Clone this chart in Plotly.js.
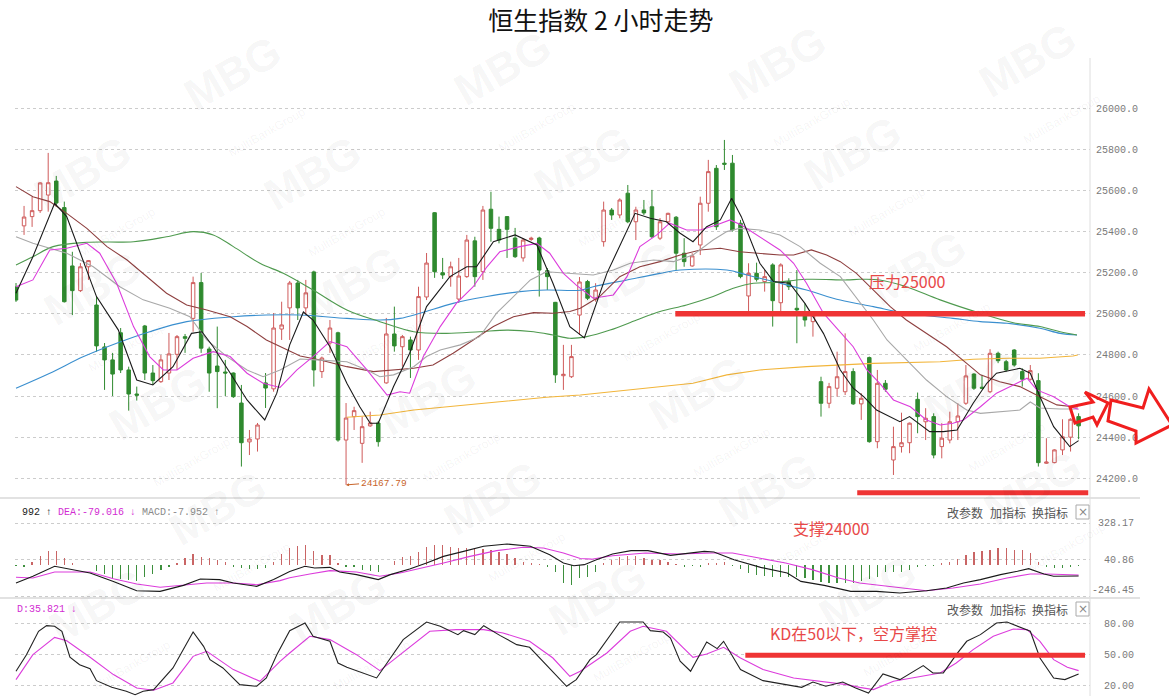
<!DOCTYPE html>
<html><head><meta charset="utf-8">
<script src="https://cdn.plot.ly/plotly-3.0.1.min.js"></script>
<style>html,body{margin:0;padding:0;background:#fff}#chart{width:1169px;height:696px}</style>
</head><body><div id="chart"></div>
<script>
// ---------- DATA ----------
const openP = [25131,25428,25473,25502,25578,25646,25517,25233,25113,25229,
25043,24839,24776,24908,24727,24610,24941,24712,24670,24712,
24803,24889,24978,25152,24829,24746,24717,24712,24566,24377,
24391,24664,24635,24926,25029,25150,25029,25204,24719,24858,
24908,24386,24500,24370,24455,24469,24664,24902,24840,24873,
24824,25082,25492,25200,25181,25072,25181,25355,25205,25509,
25411,25473,25369,25272,25362,25369,25210,25056,24699,24694,
24994,25157,25071,25351,25505,25481,25587,25448,25505,25521,
25368,25448,25470,25295,25233,25335,25538,25708,25733,25733,
25441,25087,25197,25157,25238,25054,25157,25027,25011,24962,
24670,24565,24638,24621,24719,24562,24787,24378,24662,24289,
24354,24373,24584,24475,24500,24354,24386,24475,24565,24707,
24643,24621,24808,24767,24824,24719,24682,24675,24273,24276,
24338,24400,24500];
const highP = [25150,25525,25570,25640,25783,25671,25546,25302,25247,25262,
25084,24858,24810,24931,24743,24646,24946,24751,24800,24907,
24897,24902,25181,25199,24840,24938,24776,24715,24654,24435,
24469,24712,25004,25059,25160,25165,25165,25210,24792,24970,
24913,24566,24548,24500,24524,24479,24980,25035,24897,24889,
25132,25296,25495,25272,25254,25272,25384,25375,25525,25594,
25473,25475,25418,25369,25375,25375,25223,25058,24849,24849,
25179,25165,25149,25546,25515,25562,25627,25521,25554,25603,
25466,25492,25476,25368,25295,25570,25749,25724,25846,25773,
25457,25246,25249,25213,25246,25246,25173,25213,25051,25011,
24694,24664,24816,24905,24735,24614,24792,24727,24678,24451,
24519,24471,24617,24541,24516,24468,24524,24565,24751,24711,
24703,24828,24816,24776,24828,24735,24751,24711,24395,24341,
24487,24492,24516];
const lowP = [25058,25384,25423,25491,25497,25521,25055,24994,25106,25165,
24816,24630,24600,24712,24529,24578,24678,24654,24664,24678,
24727,24810,24913,24810,24621,24541,24600,24591,24257,24313,
24330,24542,24621,24873,24873,24970,24994,24646,24688,24810,
24378,24167.79,24435,24275,24450,24354,24660,24816,24743,24688,
24776,25067,25175,25170,25132,25053,25175,25132,25165,25351,
25343,25272,25272,25254,25355,25084,25116,24664,24630,24688,
24897,25067,25059,25327,25457,25465,25441,25359,25481,25368,
25359,25441,25213,25229,25229,25286,25497,25408,25700,25400,
25173,25003,25157,25108,24938,25003,25116,24857,24938,24889,
24500,24541,24597,24605,24557,24484,24373,24346,24621,24216,
24325,24322,24419,24386,24297,24297,24370,24386,24557,24630,
24633,24614,24760,24719,24743,24646,24675,24257,24270,24273,
24313,24330,24390];
const closeP = [25067,25471,25502,25637,25638,25539,25059,25113,25229,25259,
24844,24776,24707,24727,24610,24604,24712,24675,24776,24805,
24889,24881,25152,24833,24712,24719,24712,24597,24373,24391,
24459,24639,24931,24946,25150,25029,25102,24727,24785,24931,
24386,24493,24529,24451,24469,24378,24902,24844,24889,24824,
25084,25247,25205,25189,25229,25184,25359,25181,25505,25416,
25359,25411,25278,25359,25368,25213,25181,24703,24706,24792,
25155,25076,25116,25505,25481,25554,25448,25505,25491,25375,
25448,25489,25295,25254,25282,25538,25692,25424,25728,25408,
25181,25197,25168,25181,25064,25238,25132,25019,24970,25003,
24565,24646,24694,24719,24562,24589,24378,24662,24633,24354,
24373,24468,24500,24492,24313,24395,24475,24503,24698,24638,
24638,24808,24772,24727,24751,24682,24724,24276,24279,24338,
24402,24487,24455];

// moving-average lines (x = bar position, y = price)
const ma5X = [0,2.1,4.8,6.3,10.0,12.7,15.0,17.0,19.5,21.8,23.1,24.5,26.6,28.7,30.9,32.4,34.0,35.7,36.9,39.0,41.1,42.7,44.0,45.0,46.9,48.9,51.0,53.9,56.0,57.2,59.3,62.0,64.7,66.7,68.8,70.6,73.4,76.9,78.8,80.8,82.5,84.1,85.8,87.5,88.9,90.1,92.4,94.1,96.1,98.0,100.3,102.4,104.0,105.3,106.9,109.8,111.0,113.5,115.2,116.9,118.9,120.6,121.8,124.7,126.0,127.2,128.9,130.9,132.0];
const ma5Y = [25100,25278,25538,25473,25084,24922,24678,24654,24743,24905,24913,24840,24712,24581,24484,24614,24849,25009,24970,24840,24662,24548,24468,24468,24646,24808,25035,25181,25229,25229,25351,25384,25335,25149,24938,24883,25197,25489,25465,25448,25392,25351,25424,25457,25562,25473,25246,25157,25149,25051,24905,24727,24638,24597,24532,24475,24500,24427,24427,24435,24565,24662,24711,24735,24711,24597,24451,24354,24383];
const ma10X = [0,2.1,4.2,6.3,8.8,10.4,12.5,14.6,16.6,18.3,20.0,22.0,24.5,26.6,28.7,30.7,32.8,34.9,36.9,39.0,41.1,43.6,46.1,47.7,48.9,50.6,52.7,54.7,56.8,58.5,60.1,62.6,64.7,66.3,68.0,69.6,71.7,74.2,75.9,77.5,79.6,81.2,83.3,85.0,87.0,88.7,90.1,92.4,94.9,96.6,98.2,100.3,102.4,104.0,105.7,107.3,109.0,111.1,113.1,114.8,116.4,117.7,119.8,121.8,123.9,125.6,126.8,128.9,130.9,132.0];
const ma10Y = [25132,25165,25311,25319,25343,25295,25149,24938,24792,24727,24727,24784,24816,24792,24711,24662,24642,24727,24792,24865,24840,24727,24605,24621,24614,24792,24938,25051,25132,25229,25302,25327,25343,25295,25197,25140,25076,25092,25181,25327,25384,25441,25408,25408,25432,25457,25432,25375,25311,25246,25149,25003,24909,24840,24727,24662,24581,24548,24484,24459,24468,24484,24548,24614,24654,24687,24630,24597,24548,24536];
const ma20X = [0,2.1,6.3,9.6,12.9,15.8,19.1,21.6,23.7,26.2,28.7,30.7,32.8,35.3,37.8,41.1,43.6,45.2,46.9,49.4,51.0,52.7,55.2,57.6,59.7,61.8,63.9,65.9,68.4,71.7,74.2,76.3,79.2,81.7,84.1,86.6,88.3,89.9,92.4,94.9,97.4,99.9,102.4,104.0,106.5,108.2,110.6,113.1,115.6,118.1,119.8,122.2,124.7,126.0,127.2,129.7,131.9];
const ma20Y = [25375,25343,25295,25229,25132,25068,25027,24986,24873,24792,24727,24694,24727,24780,24775,24767,24727,24694,24703,24743,24792,24824,24849,24889,25003,25084,25165,25205,25197,25189,25213,25246,25262,25254,25286,25359,25400,25416,25408,25384,25327,25246,25181,25100,24970,24873,24775,24678,24597,24532,24516,24523,24532,24571,24542,24537,24537];
const ma30X = [0,2.1,4.2,6.3,8.8,11.3,13.8,16.2,18.7,21.2,23.7,26.6,28.7,31.1,33.2,35.3,37.8,41.1,44.4,46.9,49.4,51.8,54.3,56.8,59.3,61.8,64.3,66.7,68.8,70.1,72.5,75.0,77.5,80.0,82.5,85.0,87.5,89.9,92.4,94.9,96.6,98.8,100.7,102.4,104.4,106.5,108.6,110.6,113.1,115.6,118.1,119.8,122.2,124.7,127.2,129.3,131.3,131.9];
const ma30Y = [25619,25570,25546,25489,25416,25327,25262,25181,25100,25043,25019,24986,24938,24873,24832,24795,24775,24743,24719,24727,24735,24751,24808,24873,24938,24986,25006,25003,25011,25027,25084,25181,25229,25254,25286,25311,25319,25302,25295,25286,25286,25311,25286,25254,25197,25116,25035,24970,24905,24840,24759,24703,24670,24646,24597,24557,24548,24547];
const ma60X = [0,2.1,4.6,8.8,14.6,18.7,22.0,24.5,27.0,30.3,33.2,36.9,41.1,45.2,49.4,53.5,57.6,61.0,64.3,66.7,68.8,70.9,73.8,77.1,80.0,83.3,86.6,89.1,91.6,94.1,98.2,103.2,104.8,107.3,110.6,114.8,119.8,123.9,127.2,129.7,131.8];
const ma60Y = [25238,25278,25327,25348,25351,25375,25400,25384,25327,25246,25197,25116,25019,24962,24913,24905,24913,24921,24913,24897,24881,24889,24921,24970,25011,25043,25084,25124,25149,25152,25168,25165,25168,25165,25132,25068,25003,24957,24938,24913,24897];
const ma120X = [0,4.2,8.4,12.5,16.6,21.2,27.0,31.1,35.3,41.1,45.2,47.7,50.2,54.3,58.5,62.6,65.9,70.1,71.7,75.9,80.0,82.5,88.3,90.8,94.1,98.2,102.4,106.5,110.6,116.4,119.8,123.1,127.2,129.7,131.8];
const ma120Y = [24638,24711,24792,24857,24913,24962,24986,24994,24994,24978,24970,24978,25003,25051,25084,25108,25116,25115,25132,25165,25197,25213,25213,25189,25157,25116,25067,25035,25003,24978,24962,24954,24930,24905,24897];
const ma250X = [41.1,45.2,49.4,53.5,57.6,61.8,65.9,70.1,75.9,80.0,84.1,88.3,92.4,98.2,106.5,114.8,118.9,123.1,127.2,131.3,131.9];
const ma250Y = [24497,24508,24532,24548,24565,24581,24594,24605,24630,24646,24662,24703,24727,24743,24759,24767,24779,24784,24784,24795,24800];

// MACD histogram, one value per bar
const macdHist = [-5,-18,26,70,110,110,52,13,3,-3,
-44,-70,-104,-112,-117,-123,-97,-70,-39,-13,
18,52,86,65,52,39,26,-13,-26,-34,
-34,-26,26,86,130,149,157,112,78,78,
13,-13,-18,-39,-44,-52,3,34,65,70,
104,144,157,157,144,130,130,130,123,117,
104,86,52,26,13,8,-18,-52,-138,-157,
-104,-91,-52,18,39,65,70,70,52,39,
39,26,8,-13,-5,-13,13,18,26,-5,
-34,-65,-78,-86,-91,-91,-91,-97,-104,-117,
-130,-138,-138,-138,-138,-123,-112,-97,-52,-52,
-52,-39,-18,-8,-5,13,26,44,78,104,
112,117,130,130,117,117,97,26,-13,-26,
-26,-18,-8];
const difX = [0,2.1,4.8,6.3,9.2,12.1,15.0,17.9,20.8,22.9,25.3,27.0,29.9,32.0,34.0,35.9,37.1,39.0,40.2,42.3,45.0,46.5,48.9,51.0,53.1,55.6,58.1,61.0,63.9,66.3,68.0,69.3,70.6,72.1,74.1,76.4,78.5,81.3,83.4,85.5,86.7,89.2,92.5,95.8,97.5,100.4,103.7,105.0,106.9,109.8,113.1,115.6,117.7,119.8,122.3,124.4,125.8,127.7,128.9,132.0];
const difY = [-142,-89,-11,-29,-63,-129,-202,-207,-160,-110,-115,-142,-168,-115,-52,-11,-24,-19,-55,-76,-115,-76,-32,15,67,106,146,164,146,80,15,-6,2,41,85,112,112,75,93,106,101,41,-19,-63,-129,-160,-207,-205,-207,-220,-202,-181,-142,-115,-76,-50,-29,-71,-89,-87];
const deaX = [0,2.1,4.8,9.2,12.1,15.0,17.9,20.8,23.7,27.0,29.9,32.8,34.0,36.5,39.0,42.3,45.2,47.7,50.6,53.1,56.4,59.7,63.0,65.5,68.0,70.1,71.5,74.1,78.2,82.3,86.5,89.0,92.3,95.6,98.9,102.2,104.8,107.1,108.9,113.1,116.4,119.8,123.1,126.0,128.0,132.0];
const deaY = [-97,-102,-55,-55,-108,-149,-175,-160,-142,-142,-155,-123,-100,-71,-45,-55,-89,-63,-24,15,67,112,138,133,93,50,45,72,93,85,93,93,54,15,-37,-102,-142,-160,-175,-202,-181,-149,-102,-71,-71,-79];

// KD lines
const kX = [0,1.3,2.8,3.8,4.8,5.7,6.7,7.9,9.2,10.0,11.9,13.7,14.8,15.8,17.1,19.5,22.0,23.3,24.1,25.7,27.8,29.9,31.1,32.4,34.0,35.9,36.9,39.0,40.0,41.1,44.8,46.1,48.1,51.0,52.7,54.9,55.6,57.0,58.1,60.1,62.2,63.8,66.3,68.4,69.6,71.3,72.1,75.0,77.9,78.8,80.4,81.3,82.5,83.8,85.8,87.1,87.9,90.0,92.8,95.7,97.6,99.0,100.6,102.7,104.3,105.9,107.7,109.8,112.7,113.9,115.2,116.8,118.1,119.8,121.8,123.1,124.7,126.0,127.2,128.9,130.3,131.8,132.0];
const kY = [34.1,50,72.4,77.8,77.2,72.4,47.5,40.4,36.6,25.1,18.7,14.9,11.7,14.9,16.5,37.3,71.7,58,45.2,37.3,21.3,19.7,27.7,50,73,80.4,67.6,62.8,42,37.9,27.7,42,64.4,81.3,77.2,69.2,73,69.2,77.8,68.5,59.6,57.1,37.3,19.7,26.1,45.2,50,81.3,81.3,73,71.7,66,43.7,34.1,62.2,55.8,62.8,35.7,25.1,21.3,18.7,23.8,19.7,23.8,18.1,13.3,31.5,26.1,39.5,32.5,32.5,50,62.8,69.2,80.4,81.3,76.2,72.4,46.8,27.7,26.1,30.9,31.5];
const dX = [0,2.1,4.8,6.3,9.2,12.1,15.0,17.1,19.5,22.0,23.7,27.0,30.3,32.8,34.0,36.5,39.0,42.3,45.2,47.7,51.4,54.7,58.1,60.5,63.8,66.7,68.8,70.1,73.4,76.3,77.9,80.8,82.5,84.1,85.8,87.9,90.0,92.8,96.6,99.9,103.2,104.8,106.5,109.0,112.3,114.8,116.8,118.9,121.4,123.9,125.6,127.2,128.9,130.6,132.0];
const dY = [26.1,50,66.6,63.4,47.5,30.9,18.1,15.9,22.9,48.4,53.2,35.7,24.5,43.6,51.6,67.6,64.4,50,34.7,50,72.4,74,74,70.8,62.8,46.8,29.3,34.1,51.6,72.4,77.2,72.4,59.6,47.5,50.7,57.1,46.8,35.7,27.7,24.5,21.3,18.7,16.5,24.5,29.3,32.5,42,54.8,67.6,74.6,74,62.8,45.2,37.9,34.7];

const priceTicks = [24200,24400,24600,24800,25000,25200,25400,25600,25800,26000];
const macdTicks = [-246.45, 40.86, 328.17];
const kdTicks = [20, 50, 80];
const resistanceLevel = 25000, supportLevel = 24130, kdLevel = 49.5, lowMark = 24167.79;

// ---------- LAYOUT HELPERS ----------
const N = openP.length;
const bars = Array.from({length: N}, (_, i) => i);
const STEP = 8.05;             // px per bar
const xr = [-1/STEP, -1/STEP + 1075/STEP];
const px = v => (v - 15) / 1075;       // page px -> paper x
const py = v => 1 - v / 696;           // page px -> paper y

const RED_UP = '#cf5b5b', GREEN_DN = '#2f8a2f';
const traces = [
  {type:'candlestick', x:bars, open:openP, high:highP, low:lowP, close:closeP,
   increasing:{line:{color:RED_UP,width:1}, fillcolor:'#ffffff'},
   decreasing:{line:{color:GREEN_DN,width:1}, fillcolor:GREEN_DN},
   whiskerwidth:0, hoverinfo:'skip', xaxis:'x', yaxis:'y'},
  {type:'scatter', mode:'lines', x:ma250X, y:ma250Y, line:{color:'#f2b53a',width:1.1}, yaxis:'y'},
  {type:'scatter', mode:'lines', x:ma120X, y:ma120Y, line:{color:'#3a8fcf',width:1.1, shape:'spline'}, yaxis:'y'},
  {type:'scatter', mode:'lines', x:ma60X, y:ma60Y, line:{color:'#4f9a4f',width:1.1, shape:'spline'}, yaxis:'y'},
  {type:'scatter', mode:'lines', x:ma30X, y:ma30Y, line:{color:'#8e3f3f',width:1.1}, yaxis:'y'},
  {type:'scatter', mode:'lines', x:ma20X, y:ma20Y, line:{color:'#a8a8a8',width:1.1}, yaxis:'y'},
  {type:'scatter', mode:'lines', x:ma10X, y:ma10Y, line:{color:'#dc3cdc',width:1.1}, yaxis:'y'},
  {type:'scatter', mode:'lines', x:ma5X, y:ma5Y, line:{color:'#1a1a1a',width:1.1}, yaxis:'y'},
  {type:'bar', x:bars, y:macdHist, width:0.16, yaxis:'y2',
   marker:{color: macdHist.map(v => v >= 0 ? '#c96565' : '#3d8f3d'), line:{width:0}}},
  {type:'scatter', mode:'lines', x:deaX, y:deaY, line:{color:'#dc3cdc',width:1.1}, yaxis:'y2'},
  {type:'scatter', mode:'lines', x:difX, y:difY, line:{color:'#1a1a1a',width:1.1}, yaxis:'y2'},
  {type:'scatter', mode:'lines', x:dX, y:dY, line:{color:'#dc3cdc',width:1.1}, yaxis:'y3'},
  {type:'scatter', mode:'lines', x:kX, y:kY, line:{color:'#222',width:1.1}, yaxis:'y3'}
];

const monoFont = 'Liberation Mono, DejaVu Sans Mono, monospace';
const tickFont = {family:monoFont, size:10, color:'#7a7a7a'};
const gridStyle = {showgrid:true, gridcolor:'#cccccc', griddash:'dot', gridwidth:1, zeroline:false, showline:false,
                   side:'right', anchor:'x', ticks:'', tickfont:tickFont, ticklabelstandoff:5, fixedrange:true};

const CJK = 'Noto Sans CJK SC, sans-serif';
const annRed = '#e84848';
const annotations = [];
// watermarks
const wmPos = [[245,95],[515,90],[790,85],[1040,82],[95,195],[325,195],[595,185],[865,175],
  [105,310],[365,305],[640,300],[930,290],[170,425],[440,420],[710,415],[985,410],
  [230,530],[505,520],[780,512],[1045,510],[110,628],[350,628],[610,620],[880,615]];
wmPos.forEach(p => annotations.push({xref:'paper', yref:'paper', x:px(p[0]), y:py(p[1]), xanchor:'center', yanchor:'middle',
  showarrow:false, text:'<b>MBG</b><br><span style="font-size:12px">MultiBankGroup</span>', textangle:-30,
  font:{family:'Liberation Sans, Arial, sans-serif', size:44, color:'rgba(0,0,0,0.05)'}}));
// text annotations
annotations.push(
  {xref:'paper', yref:'paper', x:px(907), y:py(281), xanchor:'center', yanchor:'middle', showarrow:false, text:'压力25000',
   font:{family:CJK, size:16, color:annRed}},
  {xref:'paper', yref:'paper', x:px(831), y:py(528), xanchor:'center', yanchor:'middle', showarrow:false, text:'支撑24000',
   font:{family:CJK, size:16, color:annRed}},
  {xref:'paper', yref:'paper', x:px(768), y:py(633), xanchor:'left', yanchor:'middle', showarrow:false, text:'KD在50以下，空方掌控',
   font:{family:CJK, size:16, color:annRed}},
  {xref:'x', yref:'y', x:41, y:lowMark, ax:13, ay:-1, xanchor:'left', showarrow:true, arrowhead:2, arrowsize:0.6,
   arrowwidth:1, arrowcolor:'#c8642a', standoff:0, text:'24167.79',
   font:{family:monoFont, size:9.5, color:'#c8642a'}},
  {xref:'paper', yref:'paper', x:px(20), y:py(512), xanchor:'left', yanchor:'middle', showarrow:false,
   text:'992 ↑ <span style="color:#d22cd2">DEA:-79.016 ↓</span> <span style="color:#8a8a8a">MACD:-7.952 ↑</span>',
   font:{family:monoFont, size:10, color:'#222'}},
  {xref:'paper', yref:'paper', x:px(15), y:py(609), xanchor:'left', yanchor:'middle', showarrow:false, text:'D:35.821 ↓',
   font:{family:monoFont, size:10, color:'#d22cd2'}}
);
// right-aligned labels of the two lower panels
[[macdTicks[2], 523],[macdTicks[1], 560],[macdTicks[0], 590]].forEach(t => annotations.push({xref:'paper', yref:'paper',
  x:px(1136), y:py(t[1]), xanchor:'right', yanchor:'middle', showarrow:false, text:t[0].toFixed(2), font:tickFont}));
[[kdTicks[2], 624],[kdTicks[1], 655],[kdTicks[0], 686]].forEach(t => annotations.push({xref:'paper', yref:'paper',
  x:px(1136), y:py(t[1]), xanchor:'right', yanchor:'middle', showarrow:false, text:t[0].toFixed(2), font:tickFont}));
[512, 609].forEach(yy => {
  [['改参数',965],['加指标',1008],['换指标',1050]].forEach(t => annotations.push({xref:'paper', yref:'paper',
    x:px(t[1]), y:py(yy), xanchor:'center', yanchor:'middle', showarrow:false, text:t[0], font:{family:CJK, size:12, color:'#555'}}));
  annotations.push({xref:'paper', yref:'paper', x:px(1082.5), y:py(yy), xanchor:'center', yanchor:'middle', showarrow:false, text:'×',
    font:{family:'DejaVu Sans, sans-serif', size:12, color:'#888'}});
});

const arrowPath = pts => 'M ' + pts.map(p => px(p[0]) + ',' + py(p[1])).join(' L ') + ' Z';
const shapes = [
  // panel separators and right axis line
  {type:'line', xref:'paper', yref:'paper', x0:px(0), x1:px(1140), y0:py(498), y1:py(498), line:{color:'#e2e2e2', width:2}},
  {type:'line', xref:'paper', yref:'paper', x0:px(0), x1:px(1140), y0:py(598), y1:py(598), line:{color:'#e2e2e2', width:2}},
  {type:'line', xref:'paper', yref:'paper', x0:1, x1:1, y0:py(58), y1:0, line:{color:'#dedede', width:1}},
  // red guide lines
  {type:'line', xref:'x', yref:'y', x0:81.9, x1:132.8, y0:resistanceLevel, y1:resistanceLevel, line:{color:'#ef3434', width:5.5}},
  {type:'line', xref:'x', yref:'y', x0:104.5, x1:133.2, y0:supportLevel, y1:supportLevel, line:{color:'#ef3434', width:5}},
  {type:'line', xref:'x', yref:'y3', x0:90.6, x1:132.8, y0:kdLevel, y1:kdLevel, line:{color:'#ef3434', width:5}},
  // close boxes
  {type:'rect', xref:'paper', yref:'paper', x0:px(1076), x1:px(1089), y0:py(505), y1:py(519), line:{color:'#aaa', width:1}},
  {type:'rect', xref:'paper', yref:'paper', x0:px(1076), x1:px(1089), y0:py(602), y1:py(616), line:{color:'#aaa', width:1}},
  // hollow red arrows
  {type:'path', xref:'paper', yref:'paper', path:arrowPath([[1070,407],[1093,402],[1085,392],[1108,403],[1097,425],[1093,417],[1075,423]]),
   line:{color:'#f01e1e', width:3}, fillcolor:'rgba(0,0,0,0)'},
  {type:'path', xref:'paper', yref:'paper', path:arrowPath([[1111,400],[1143,408],[1149,389],[1172,425],[1136,443],[1136,431],[1108,421]]),
   line:{color:'#f01e1e', width:3}, fillcolor:'rgba(0,0,0,0)'}
];

const layout = {
  width:1169, height:696, margin:{l:15, r:79, t:0, b:0},
  paper_bgcolor:'#ffffff', plot_bgcolor:'#ffffff', showlegend:false, boxgap:0.38,
  title:{text:'恒生指数 2 小时走势', x:0.514, xanchor:'center', y:py(21), yanchor:'middle',
         font:{family:CJK, size:25, color:'#111'}},
  xaxis:{range:xr, showgrid:false, zeroline:false, showline:false, showticklabels:false, ticks:'',
         rangeslider:{visible:false}, fixedrange:true},
  yaxis:Object.assign({}, gridStyle, {domain:[py(498), py(60)], range:[24104, 26235],
         tickvals:priceTicks, ticktext:priceTicks.map(v => v.toFixed(1))}),
  yaxis2:Object.assign({}, gridStyle, {domain:[py(598), py(498)], range:[-259, 524],
         tickvals:macdTicks, showticklabels:false}),
  yaxis3:Object.assign({}, gridStyle, {domain:[0, py(598)], range:[10.4, 104.3],
         tickvals:kdTicks, showticklabels:false}),
  annotations:annotations, shapes:shapes, bargap:0
};
Plotly.newPlot('chart', traces, layout, {displayModeBar:false, staticPlot:true});
</script></body></html>
